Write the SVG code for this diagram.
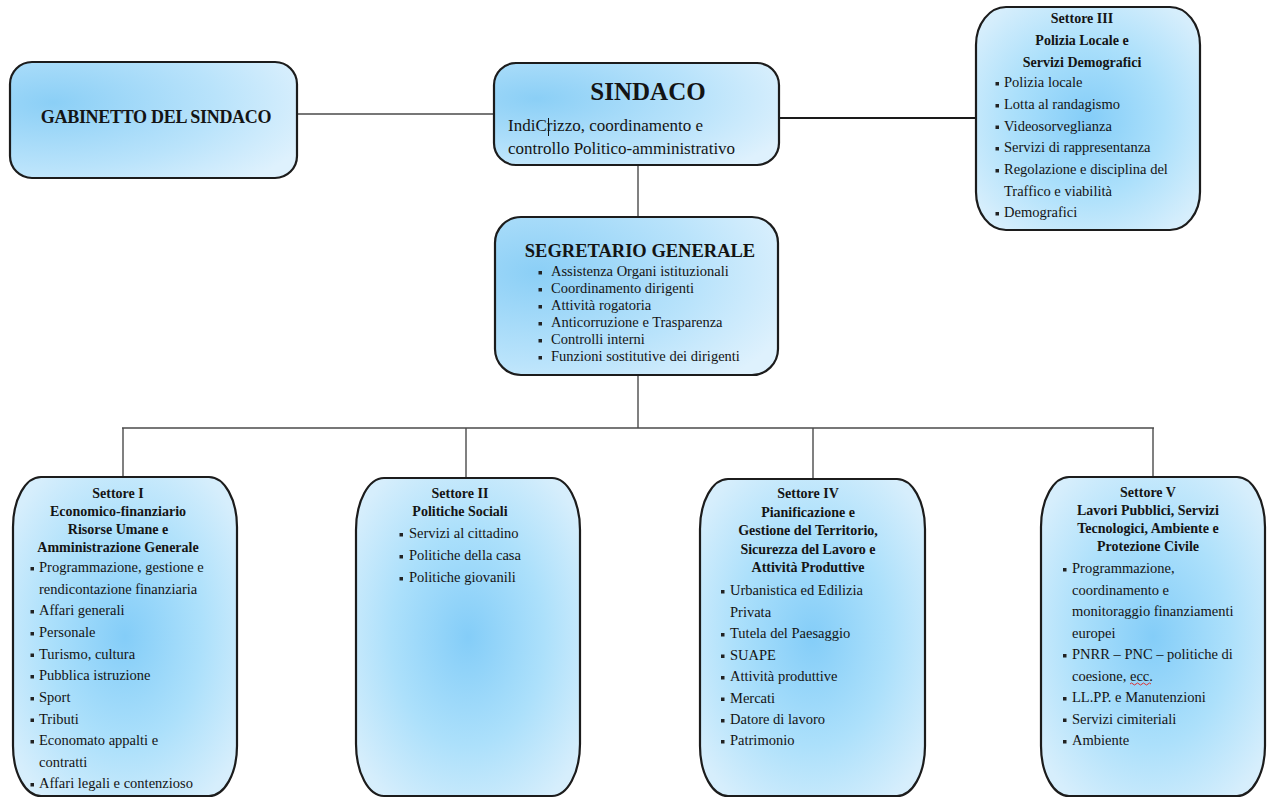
<svg xmlns="http://www.w3.org/2000/svg" width="1273" height="798" viewBox="0 0 1273 798">
<defs>
<radialGradient id="gTall" cx="0.5" cy="0.5" r="0.62">
<stop offset="0" stop-color="#84cdf8"/>
<stop offset="0.55" stop-color="#ace0fb"/>
<stop offset="1" stop-color="#d6eefc"/>
</radialGradient>
<radialGradient id="gWide" cx="0.15" cy="0.35" r="0.95">
<stop offset="0" stop-color="#8bcff6"/>
<stop offset="0.6" stop-color="#b9e3fb"/>
<stop offset="1" stop-color="#def1fd"/>
</radialGradient>
<style>
.box{stroke:#1c1c1c;stroke-width:2.2}
.tall{fill:url(#gTall)}
.wide{fill:url(#gWide)}
.t{font-family:"Liberation Serif","Times New Roman",serif;fill:#141414}
.hd{font-weight:bold;font-size:14px;text-anchor:middle}
.it{font-size:14.5px}
.sg{font-size:14.5px}
.blt{fill:#222}
.conn{stroke:#4a4a4a;stroke-width:1.4;fill:none}
</style>
</defs>
<rect width="1273" height="798" fill="#ffffff"/>

<g id="connectors">
<line class="conn" x1="297" y1="114" x2="494" y2="114"/>
<line class="conn" x1="779" y1="118" x2="976" y2="118" style="stroke:#1a1a1a;stroke-width:2"/>
<line class="conn" x1="638" y1="165" x2="638" y2="217"/>
<line class="conn" x1="638" y1="375" x2="638" y2="428"/>
<line class="conn" x1="122" y1="428" x2="1154" y2="428"/>
<line class="conn" x1="123" y1="428" x2="123" y2="477"/>
<line class="conn" x1="466" y1="428" x2="466" y2="478"/>
<line class="conn" x1="813" y1="428" x2="813" y2="479"/>
<line class="conn" x1="1153" y1="428" x2="1153" y2="477"/>
</g>

<g id="gabinetto">
<rect class="box wide" x="10" y="62" width="287" height="116" rx="22" ry="22"/>
<text class="t" x="156" y="123" text-anchor="middle" font-weight="bold" font-size="18" letter-spacing="-0.3">GABINETTO DEL SINDACO</text>
</g>

<g id="sindaco">
<rect class="box wide" x="494" y="63" width="285" height="102" rx="22" ry="22"/>
<text class="t" x="648" y="100" text-anchor="middle" font-weight="bold" font-size="25">SINDACO</text>
<text class="t" x="508" y="131" font-size="17">IndiCrizzo, coordinamento e</text>
<line x1="548.5" y1="118" x2="548.5" y2="136" stroke="#111" stroke-width="1"/>
<text class="t" x="508" y="154" font-size="17">controllo Politico-amministrativo</text>
</g>

<g id="settore3">
<rect class="box tall" x="976" y="7" width="224" height="223" rx="30" ry="38"/>
<text class="t hd" x="1082" y="23">Settore III</text>
<text class="t hd" x="1082" y="45">Polizia Locale e</text>
<text class="t hd" x="1082" y="67">Servizi Demografici</text>
<rect class="blt" x="995.5" y="82" width="3.5" height="3.5"/>
<text class="t it" x="1004" y="87">Polizia locale</text>
<rect class="blt" x="995.5" y="104" width="3.5" height="3.5"/>
<text class="t it" x="1004" y="109">Lotta al randagismo</text>
<rect class="blt" x="995.5" y="125.5" width="3.5" height="3.5"/>
<text class="t it" x="1004" y="130.5">Videosorveglianza</text>
<rect class="blt" x="995.5" y="147" width="3.5" height="3.5"/>
<text class="t it" x="1004" y="152">Servizi di rappresentanza</text>
<rect class="blt" x="995.5" y="169" width="3.5" height="3.5"/>
<text class="t it" x="1004" y="174">Regolazione e disciplina del</text>
<text class="t it" x="1004" y="195.5">Traffico e viabilità</text>
<rect class="blt" x="995.5" y="212" width="3.5" height="3.5"/>
<text class="t it" x="1004" y="217">Demografici</text>
</g>

<g id="segretario">
<rect class="box wide" x="495" y="217" width="283" height="158" rx="26" ry="26"/>
<text class="t" x="640" y="257" text-anchor="middle" font-weight="bold" font-size="18.5">SEGRETARIO GENERALE</text>
<rect class="blt" x="538.5" y="271" width="3.5" height="3.5"/>
<text class="t sg" x="551" y="276">Assistenza Organi istituzionali</text>
<rect class="blt" x="538.5" y="288" width="3.5" height="3.5"/>
<text class="t sg" x="551" y="293">Coordinamento dirigenti</text>
<rect class="blt" x="538.5" y="305" width="3.5" height="3.5"/>
<text class="t sg" x="551" y="310">Attività rogatoria</text>
<rect class="blt" x="538.5" y="322" width="3.5" height="3.5"/>
<text class="t sg" x="551" y="327">Anticorruzione e Trasparenza</text>
<rect class="blt" x="538.5" y="339" width="3.5" height="3.5"/>
<text class="t sg" x="551" y="344">Controlli interni</text>
<rect class="blt" x="538.5" y="356" width="3.5" height="3.5"/>
<text class="t sg" x="551" y="361">Funzioni sostitutive dei dirigenti</text>
</g>

<g id="settore1">
<rect class="box tall" x="13" y="477" width="224" height="319" rx="28" ry="50"/>
<text class="t hd" x="118" y="498">Settore I</text>
<text class="t hd" x="118" y="516">Economico-finanziario</text>
<text class="t hd" x="118" y="534">Risorse Umane e</text>
<text class="t hd" x="118" y="552">Amministrazione Generale</text>
<rect class="blt" x="30.5" y="567" width="3.5" height="3.5"/>
<text class="t it" x="39" y="572">Programmazione, gestione e</text>
<text class="t it" x="39" y="593.5">rendicontazione finanziaria</text>
<rect class="blt" x="30.5" y="610" width="3.5" height="3.5"/>
<text class="t it" x="39" y="615">Affari generali</text>
<rect class="blt" x="30.5" y="632" width="3.5" height="3.5"/>
<text class="t it" x="39" y="637">Personale</text>
<rect class="blt" x="30.5" y="653.5" width="3.5" height="3.5"/>
<text class="t it" x="39" y="658.5">Turismo, cultura</text>
<rect class="blt" x="30.5" y="675" width="3.5" height="3.5"/>
<text class="t it" x="39" y="680">Pubblica istruzione</text>
<rect class="blt" x="30.5" y="697" width="3.5" height="3.5"/>
<text class="t it" x="39" y="702">Sport</text>
<rect class="blt" x="30.5" y="718.5" width="3.5" height="3.5"/>
<text class="t it" x="39" y="723.5">Tributi</text>
<rect class="blt" x="30.5" y="740" width="3.5" height="3.5"/>
<text class="t it" x="39" y="745">Economato appalti e</text>
<text class="t it" x="39" y="766.5">contratti</text>
<rect class="blt" x="30.5" y="783" width="3.5" height="3.5"/>
<text class="t it" x="39" y="788">Affari legali e contenzioso</text>
</g>

<g id="settore2">
<rect class="box tall" x="356" y="478" width="224" height="318" rx="28" ry="52"/>
<text class="t hd" x="460" y="498">Settore II</text>
<text class="t hd" x="460" y="516">Politiche Sociali</text>
<rect class="blt" x="399.5" y="533" width="3.5" height="3.5"/>
<text class="t it" x="409" y="538">Servizi al cittadino</text>
<rect class="blt" x="399.5" y="555" width="3.5" height="3.5"/>
<text class="t it" x="409" y="560">Politiche della casa</text>
<rect class="blt" x="399.5" y="577" width="3.5" height="3.5"/>
<text class="t it" x="409" y="582">Politiche giovanili</text>
</g>

<g id="settore4">
<rect class="box tall" x="700" y="479" width="225" height="317" rx="28" ry="50"/>
<text class="t hd" x="808" y="498">Settore IV</text>
<text class="t hd" x="808" y="516.5">Pianificazione e</text>
<text class="t hd" x="808" y="535">Gestione del Territorio,</text>
<text class="t hd" x="808" y="553.5">Sicurezza del Lavoro e</text>
<text class="t hd" x="808" y="572">Attività Produttive</text>
<rect class="blt" x="721" y="590" width="3.5" height="3.5"/>
<text class="t it" x="730" y="595">Urbanistica ed Edilizia</text>
<text class="t it" x="730" y="616.5">Privata</text>
<rect class="blt" x="721" y="633" width="3.5" height="3.5"/>
<text class="t it" x="730" y="638">Tutela del Paesaggio</text>
<rect class="blt" x="721" y="654.5" width="3.5" height="3.5"/>
<text class="t it" x="730" y="659.5">SUAPE</text>
<rect class="blt" x="721" y="676" width="3.5" height="3.5"/>
<text class="t it" x="730" y="681">Attività produttive</text>
<rect class="blt" x="721" y="697.5" width="3.5" height="3.5"/>
<text class="t it" x="730" y="702.5">Mercati</text>
<rect class="blt" x="721" y="719" width="3.5" height="3.5"/>
<text class="t it" x="730" y="724">Datore di lavoro</text>
<rect class="blt" x="721" y="740" width="3.5" height="3.5"/>
<text class="t it" x="730" y="745">Patrimonio</text>
</g>

<g id="settore5">
<rect class="box tall" x="1041" y="477" width="224" height="319" rx="28" ry="50"/>
<text class="t hd" x="1148" y="497">Settore V</text>
<text class="t hd" x="1148" y="515">Lavori Pubblici, Servizi</text>
<text class="t hd" x="1148" y="533">Tecnologici, Ambiente e</text>
<text class="t hd" x="1148" y="551">Protezione Civile</text>
<rect class="blt" x="1063" y="568" width="3.5" height="3.5"/>
<text class="t it" x="1072" y="573">Programmazione,</text>
<text class="t it" x="1072" y="594.5">coordinamento e</text>
<text class="t it" x="1072" y="616">monitoraggio finanziamenti</text>
<text class="t it" x="1072" y="637.5">europei</text>
<rect class="blt" x="1063" y="654" width="3.5" height="3.5"/>
<text class="t it" x="1072" y="659">PNRR – PNC – politiche di</text>
<text class="t it" x="1072" y="680.5">coesione, ecc.</text>
<path d="M1130 684 q1.5 -2 3 0 t3 0 t3 0 t3 0 t3 0 t3 0 t3 0" fill="none" stroke="#d33" stroke-width="1"/>
<rect class="blt" x="1063" y="697" width="3.5" height="3.5"/>
<text class="t it" x="1072" y="702">LL.PP. e Manutenzioni</text>
<rect class="blt" x="1063" y="718.5" width="3.5" height="3.5"/>
<text class="t it" x="1072" y="723.5">Servizi cimiteriali</text>
<rect class="blt" x="1063" y="740" width="3.5" height="3.5"/>
<text class="t it" x="1072" y="745">Ambiente</text>
</g>
</svg>
